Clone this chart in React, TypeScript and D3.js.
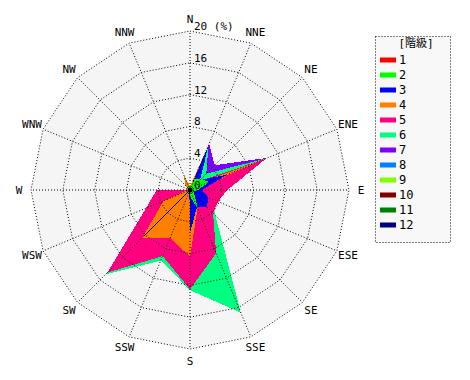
import React from "react";
import * as d3 from "d3";

const directions = ["N","NNE","NE","ENE","E","ESE","SE","SSE","S","SSW","SW","WSW","W","WNW","NW","NNW"];
const ringTicks = [4, 8, 12, 16, 20];
const classLabels = ["1","2","3","4","5","6","7","8","9","10","11","12"];
const classColors = ["#ff0000","#00ff00","#0000ff","#ff8000","#ff0080","#00ff80","#8000ff","#0080ff","#80ff00","#800000","#008000","#000080"];

// frequency (%) per direction for each class
const class1 = [0.1,0.2,0.2,0.3,0.2,0.1,0.1,0.2,0.2,0.1,0.2,0.1,0.1,0.1,0.1,0.1];
const class2 = [0.3,1.5,2.0,2.6,1.0,0.5,0.8,2.6,0.8,0.2,0.3,0.2,0.2,0.1,0.1,1.8];
const class3 = [0.2,6.0,1.8,5.0,1.5,2.5,3.0,2.3,5.4,0.2,8.4,0.2,0.2,0.1,0.1,0.3];
const class4 = [0.5,6.2,1.0,10.3,0.5,0.3,0.5,2.5,8.4,6.5,8.5,3.6,0.3,0.3,0.8,2.1];
const class5 = [0.3,0.5,1.5,10.4,4.7,3.8,4.1,8.6,12.5,9.0,14.7,6.0,4.2,0,0,0.3];
const class6 = [0.3,6.1,2.9,10.5,3.0,3.0,4.5,16.7,12.6,9.6,15.0,4.0,2.0,0,0,0.5];
const class7 = [0.2,6.3,4.4,10.6,2.0,1.5,2.0,3.0,3.0,2.0,3.0,1.0,0.5,0,0,0.3];
const class8 = [0,0,0,0,0,0,0,0,0,0,0,0,0,0,0,0];
const class9 = [0,0,0,0,0,0,0,0,0,0,0,0,0,0,0,0];
const class10 = [0,0,0,0,0,0,0,0,0,0,0,0,0,0,0,0];
const class11 = [0,0,0,0,0,0,0,0,0,0,0,0,0,0,0,0];
const class12 = [0,0,0,0,0,0,0,0,0,0,0,0,0,0,0,0];

const seriesValues = [class1,class2,class3,class4,class5,class6,class7,class8,class9,class10,class11,class12];

export default function App() {
  const W = 470, H = 380;
  const cx = 190, cy = 190;
  const r = d3.scaleLinear().domain([0, 20]).range([0, 159]);
  const n = directions.length;
  const angle = (i: number) => (i * 2 * Math.PI) / n;

  const radial = d3
    .lineRadial<number>()
    .angle((_d, i) => angle(i))
    .radius((d) => r(d))
    .curve(d3.curveLinearClosed);

  const ringPath = (v: number) => radial(directions.map(() => v)) || "";
  const font = "'DejaVu Sans Mono', monospace";

  const order = d3.range(seriesValues.length).reverse();

  return (
    <svg width={W} height={H} style={{ position: "absolute", left: 0, top: 0, background: "#ffffff" }}>
      <g transform={`translate(${cx},${cy})`}>
        <path d={ringPath(20)} fill="#f5f5f5" stroke="none" />
        {order.map((k) => (
          <path key={k} d={radial(seriesValues[k]) || ""} fill={classColors[k]} stroke="none" shapeRendering="crispEdges" />
        ))}
        {directions.map((_d, i) => {
          const a = angle(i);
          return (
            <line key={i} x1={0} y1={0} x2={r(20) * Math.sin(a)} y2={-r(20) * Math.cos(a)}
              stroke="#000" strokeWidth={1} strokeDasharray="1,2" />
          );
        })}
        {ringTicks.map((t) => (
          <path key={t} d={ringPath(t)} fill="none" stroke="#000" strokeWidth={1} strokeDasharray="1,2" />
        ))}
        <circle cx={0} cy={0} r={2.5} fill="#000" />
        {[0, ...ringTicks].map((t) => (
          <text key={t} x={4} y={-r(t) - 1} fontFamily={font} fontSize={11} fill="#000">
            {t === 20 ? "20 (%)" : String(t)}
          </text>
        ))}
        {directions.map((d, i) => {
          const a = angle(i);
          const R = 171;
          return (
            <text key={d} x={R * Math.sin(a)} y={-R * Math.cos(a)} textAnchor="middle" dominantBaseline="central"
              fontFamily={font} fontSize={11} fill="#000">
              {d}
            </text>
          );
        })}
      </g>
      <g>
        <rect x={375.5} y={36.5} width={75} height={206} fill="#f8f8f8" stroke="#000" strokeWidth={1} strokeDasharray="1,2" />
        <text x={416} y={43} textAnchor="middle" dominantBaseline="central" fontFamily="'DejaVu Sans Mono','Noto Sans CJK JP', monospace" fontSize={11} fill="#000">
          [階級]
        </text>
        {classLabels.map((lab, i) => (
          <g key={lab} transform={`translate(0,${60 + i * 15})`}>
            <rect x={380} y={-2.5} width={16} height={5} fill={classColors[i]} />
            <text x={399} y={0} dominantBaseline="central" fontFamily={font} fontSize={12} fill="#000">
              {lab}
            </text>
          </g>
        ))}
      </g>
    </svg>
  );
}
